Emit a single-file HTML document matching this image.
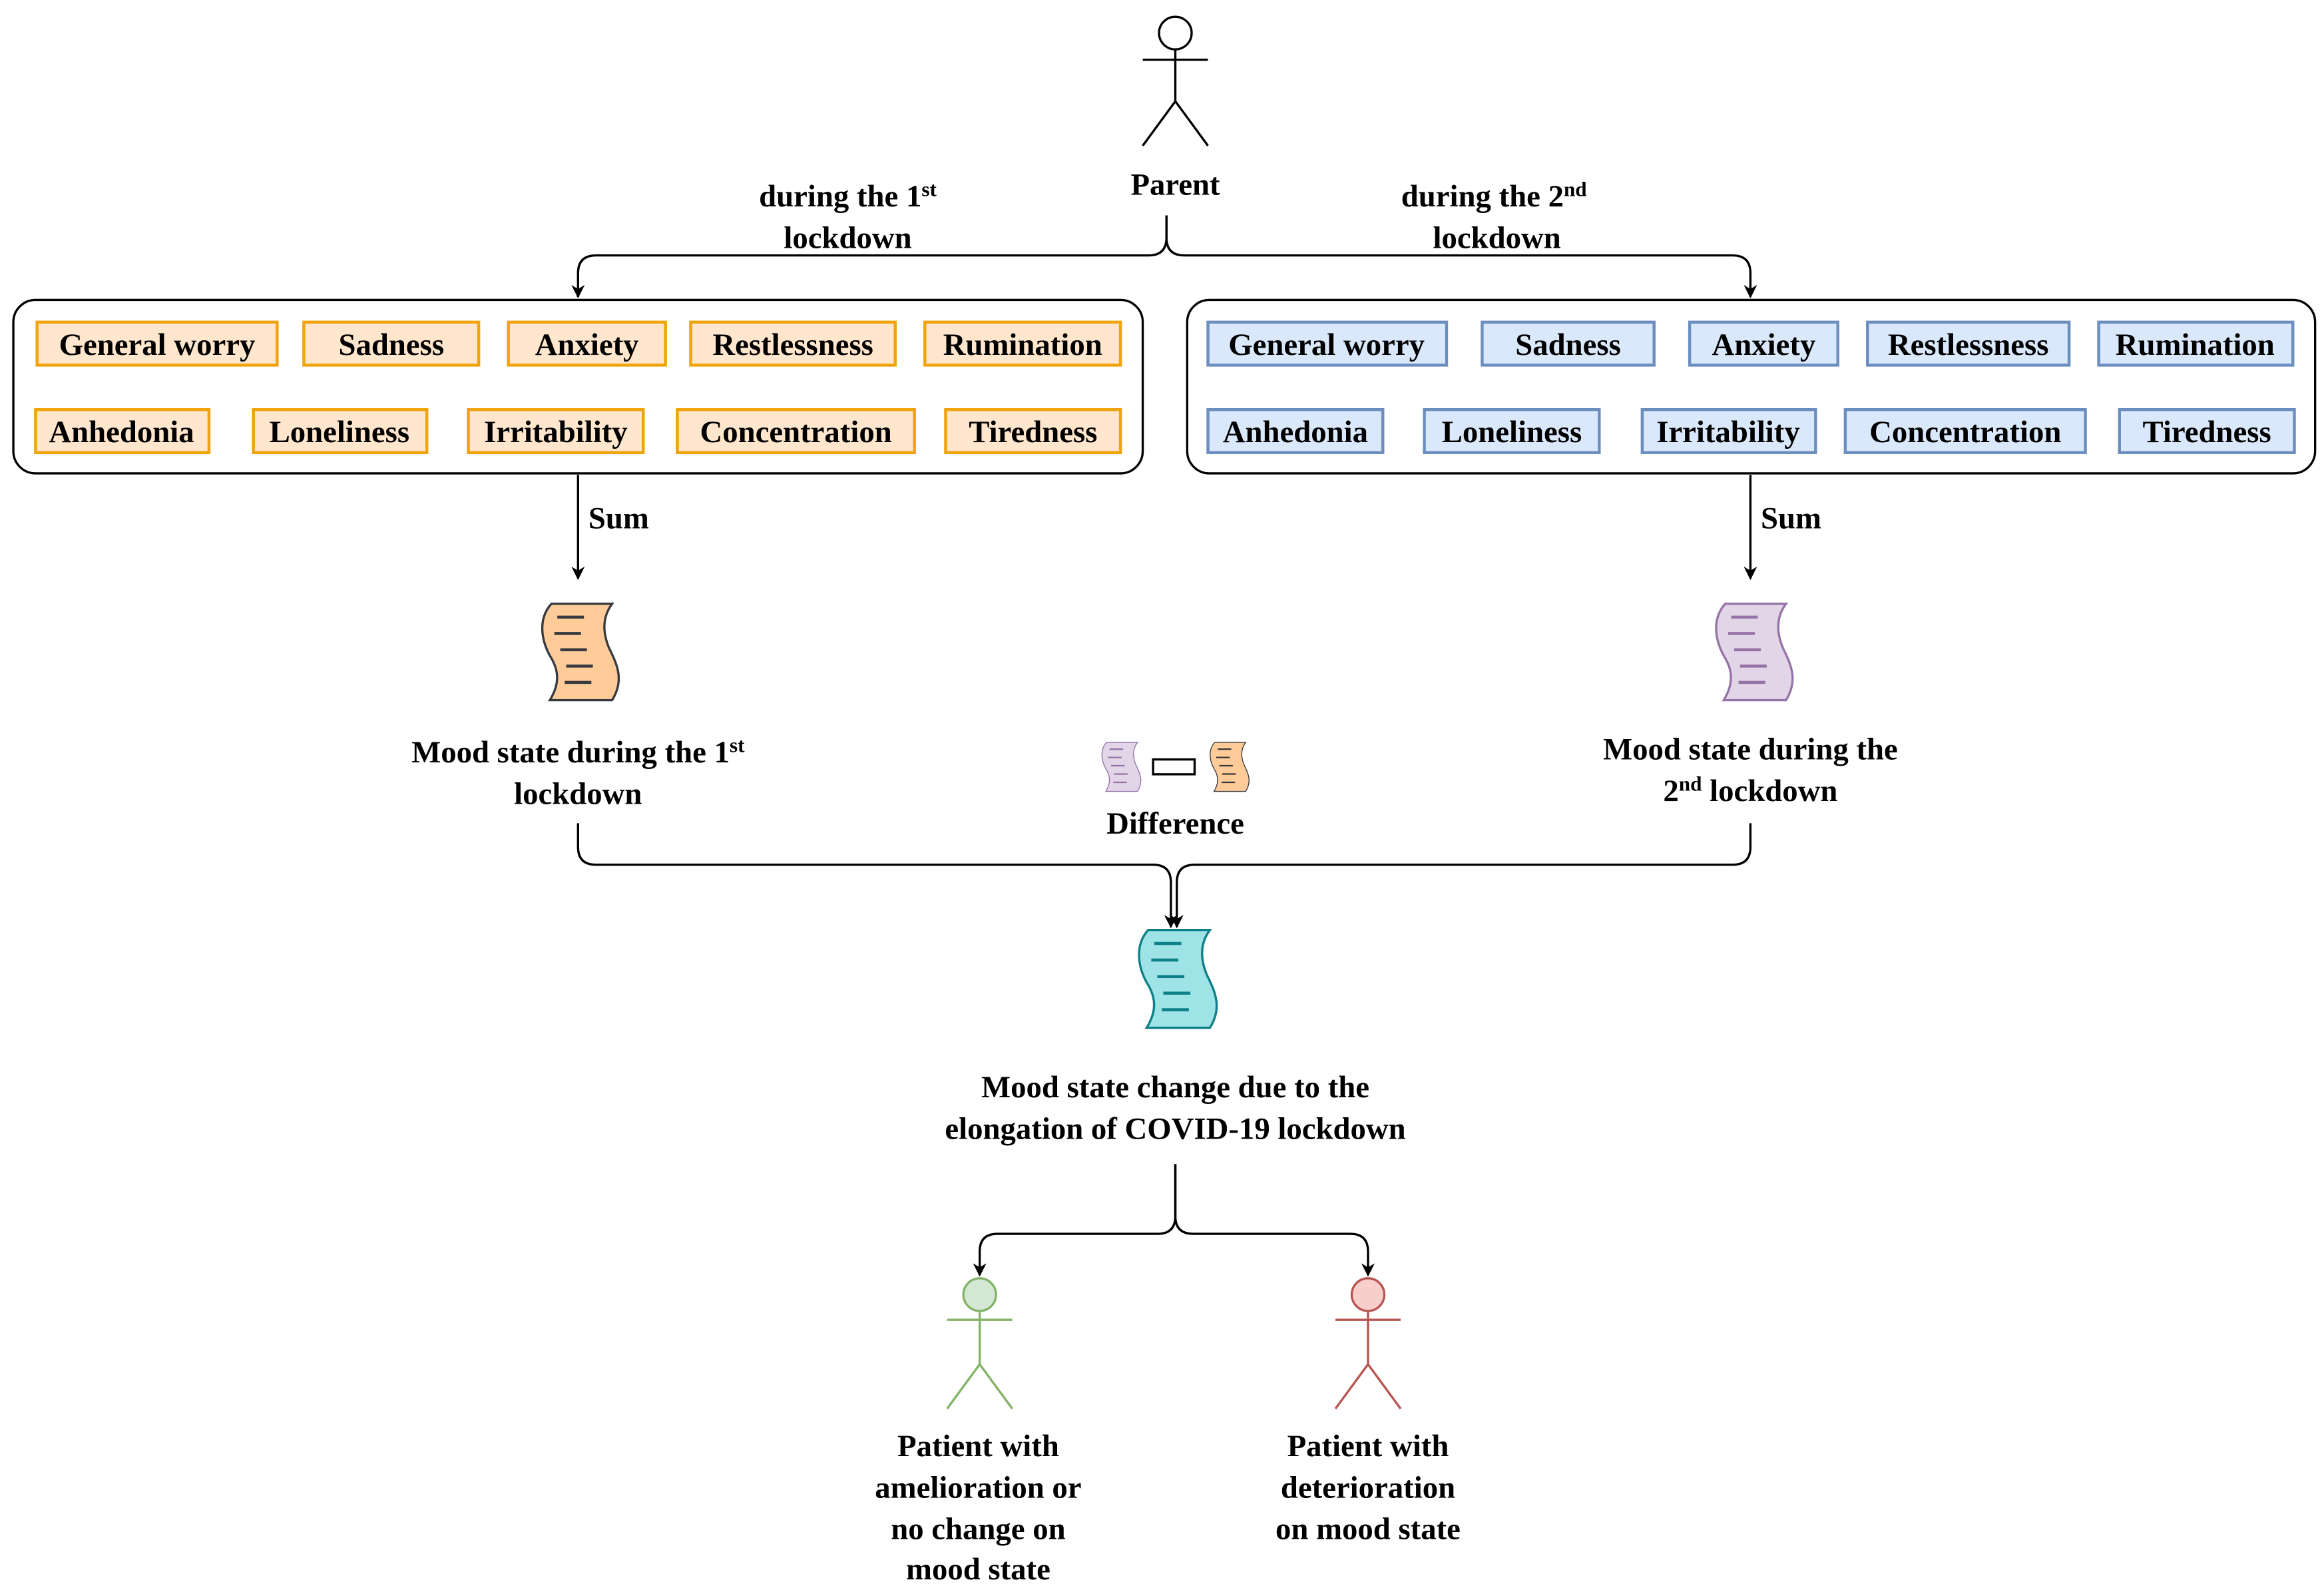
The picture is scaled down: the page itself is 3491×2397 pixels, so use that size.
<!DOCTYPE html>
<html><head><meta charset="utf-8"><style>html,body{margin:0;padding:0;background:#fff}svg{display:block}svg text{font-family:"Liberation Serif","DejaVu Serif",serif;font-weight:bold}</style></head>
<body>
<svg width="3491" height="2397" viewBox="0 0 1568 1076" xmlns="http://www.w3.org/2000/svg" font-size="21">
<defs>
<marker id="ar" viewBox="0 0 10 10" refX="9" refY="5" markerWidth="6" markerHeight="6" orient="auto"><path d="M0,0 L10,5 L0,10 L3,5 Z" fill="#000"/></marker>
<symbol id="scr" viewBox="0 0 55 65" overflow="visible">
<path d="M9,0 L50,0 C44,8 43,18 48,30 C54,42 58,52 50,65 L8,65 C14,55 15,46 8,35 C2,24 0,10 9,0 Z"/>
<g fill="none" stroke-width="2"><path d="M13,9h18M11,20h18M15,31h18M19,42h18M18,53h18"/></g>
</symbol>
</defs>
<rect width="1568" height="1076" fill="#fff"/>
<g fill="none" stroke="#000" stroke-width="1.5">
<circle cx="793" cy="22" r="11" fill="#fff"/>
<path d="M793,33V68M771,40H815M771,98L793,68L815,98"/>
<path d="M787,145V160Q787,172 775,172H402Q390,172 390,184V200" marker-end="url(#ar)"/>
<path d="M787,145V160Q787,172 799,172H1169Q1181,172 1181,184V200" marker-end="url(#ar)"/>
<rect x="9" y="202" width="762" height="117" rx="15"/>
<rect x="801" y="202" width="761" height="117" rx="15"/>
<path d="M390,320V390" marker-end="url(#ar)"/>
<path d="M1181,320V390" marker-end="url(#ar)"/>
<path d="M390,555V571Q390,583 402,583H778Q790,583 790,595V625" marker-end="url(#ar)"/>
<path d="M1181,555V571Q1181,583 1169,583H806Q794,583 794,595V625" marker-end="url(#ar)"/>
<path d="M793,785V820Q793,832 781,832H673Q661,832 661,844V860" marker-end="url(#ar)"/>
<path d="M793,785V820Q793,832 805,832H911Q923,832 923,844V860" marker-end="url(#ar)"/>
</g>
<g fill="#ffe6cc" stroke="#f0a30a" stroke-width="2">
<rect x="25" y="217" width="162" height="29"/><rect x="205" y="217" width="118" height="29"/><rect x="343" y="217" width="106" height="29"/><rect x="466" y="217" width="138" height="29"/><rect x="624" y="217" width="132" height="29"/>
<rect x="24" y="276" width="117" height="29"/><rect x="171" y="276" width="117" height="29"/><rect x="316" y="276" width="118" height="29"/><rect x="457" y="276" width="160" height="29"/><rect x="638" y="276" width="118" height="29"/>
</g>
<g fill="#dae8fc" stroke="#6c8ebf" stroke-width="2">
<rect x="815" y="217" width="161" height="29"/><rect x="1000" y="217" width="116" height="29"/><rect x="1140" y="217" width="100" height="29"/><rect x="1260" y="217" width="136" height="29"/><rect x="1416" y="217" width="131" height="29"/>
<rect x="815" y="276" width="118" height="29"/><rect x="961" y="276" width="118" height="29"/><rect x="1108" y="276" width="117" height="29"/><rect x="1245" y="276" width="162" height="29"/><rect x="1430" y="276" width="118" height="29"/>
</g>
<g text-anchor="middle" fill="#000">
<text x="106" y="239">General worry</text><text x="264" y="239">Sadness</text><text x="396" y="239">Anxiety</text><text x="535" y="239">Restlessness</text><text x="690" y="239">Rumination</text>
<text x="82" y="298">Anhedonia</text><text x="229" y="298">Loneliness</text><text x="375" y="298">Irritability</text><text x="537" y="298">Concentration</text><text x="697" y="298">Tiredness</text>
<text x="895" y="239">General worry</text><text x="1058" y="239">Sadness</text><text x="1190" y="239">Anxiety</text><text x="1328" y="239">Restlessness</text><text x="1481" y="239">Rumination</text>
<text x="874" y="298">Anhedonia</text><text x="1020" y="298">Loneliness</text><text x="1166" y="298">Irritability</text><text x="1326" y="298">Concentration</text><text x="1489" y="298">Tiredness</text>
<text x="793" y="131">Parent</text>
<text x="572" y="139">during the 1<tspan font-size="14" dy="-7">st</tspan></text>
<text x="572" y="167">lockdown</text>
<text x="1008" y="139">during the 2<tspan font-size="14" dy="-7">nd</tspan></text>
<text x="1010" y="167">lockdown</text>
<text x="390" y="514">Mood state during the 1<tspan font-size="14" dy="-7">st</tspan></text>
<text x="390" y="542">lockdown</text>
<text x="1181" y="512">Mood state during the</text>
<text x="1181" y="540">2<tspan font-size="14" dy="-7">nd</tspan><tspan dy="7"> lockdown</tspan></text>
<text x="793" y="562">Difference</text>
<text x="793" y="740">Mood state change due to the</text>
<text x="793" y="768">elongation of COVID-19 lockdown</text>
<text x="660" y="982">Patient with</text><text x="660" y="1010">amelioration or</text><text x="660" y="1038">no change on</text><text x="660" y="1065">mood state</text>
<text x="923" y="982">Patient with</text><text x="923" y="1010">deterioration</text><text x="923" y="1038">on mood state</text>
</g>
<g text-anchor="start"><text x="397" y="356">Sum</text><text x="1188" y="356">Sum</text></g>
<use href="#scr" x="363" y="407" width="55" height="65" fill="#ffcc99" stroke="#36393d" stroke-width="1.5"/>
<use href="#scr" x="1155" y="407" width="55" height="65" fill="#e1d5e7" stroke="#9673a6" stroke-width="1.5"/>
<use href="#scr" x="765" y="627" width="57" height="66" fill="#9ee3e6" stroke="#0e8088" stroke-width="1.5"/>
<use href="#scr" x="742" y="497" width="28" height="40" fill="#e1d5e7" stroke="#9673a6" stroke-width="1.2"/>
<use href="#scr" x="815" y="497" width="28" height="40" fill="#ffcc99" stroke="#36393d" stroke-width="1.2"/>
<rect x="778" y="512" width="28" height="10" fill="#fff" stroke="#000" stroke-width="1.5"/>
<g stroke="#82b366" stroke-width="1.5" fill="none">
<circle cx="661" cy="873" r="11" fill="#d5e8d4"/><path d="M661,884V920M639,890H683M639,950L661,920L683,950"/>
</g>
<g stroke="#b85450" stroke-width="1.5" fill="none">
<circle cx="923" cy="873" r="11" fill="#f8cecc"/><path d="M923,884V920M901,890H945M901,950L923,920L945,950"/>
</g>
</svg>
</body></html>
